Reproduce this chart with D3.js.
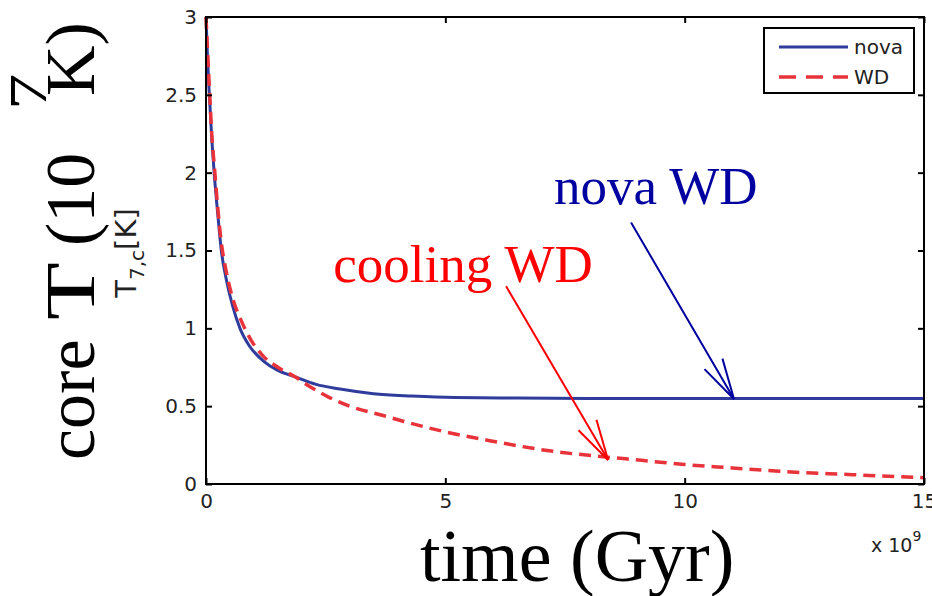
<!DOCTYPE html>
<html>
<head>
<meta charset="utf-8">
<script src="https://cdn.jsdelivr.net/npm/d3@7"></script>
<style>
  html, body { margin: 0; padding: 0; background: #fff; }
  svg { display: block; }
</style>
</head>
<body>
<svg id="chart" width="932" height="596"></svg>
<script>
// time in Gyr, core temperature in 10^7 K
const novaTime = [0, 0.03, 0.07, 0.12, 0.17, 0.25, 0.32, 0.42, 0.55, 0.71, 0.9, 1.2, 1.5, 1.85, 2.3, 2.8, 3.5, 4.3, 5.2, 6.5, 8, 10, 12, 15];
const novaTemp = [3.0, 2.75, 2.5, 2.22, 2.0, 1.72, 1.5, 1.32, 1.15, 1.0, 0.89, 0.79, 0.73, 0.69, 0.64, 0.61, 0.58, 0.565, 0.555, 0.552, 0.55, 0.55, 0.55, 0.55];

const wdTime = [0, 0.03, 0.07, 0.12, 0.18, 0.25, 0.32, 0.42, 0.55, 0.75, 0.95, 1.2, 1.5, 1.85, 2.2, 2.55, 3.0, 3.7, 4.1, 5.0, 5.9, 7.25, 8.3, 9.1, 10, 11, 11.9, 13.5, 15];
const wdTemp = [3.0, 2.8, 2.55, 2.25, 2.02, 1.76, 1.55, 1.37, 1.2, 1.04, 0.92, 0.82, 0.75, 0.69, 0.62, 0.56, 0.5, 0.44, 0.405, 0.335, 0.28, 0.21, 0.175, 0.152, 0.125, 0.103, 0.083, 0.06, 0.04];

const xTicks = [0, 5, 10, 15];
const yTicks = [0, 0.5, 1, 1.5, 2, 2.5, 3];
const legendLabels = ['nova', 'WD'];

const width = 932, height = 596;
const margin = { top: 17, right: 8, bottom: 112, left: 206 };

const svg = d3.select('#chart');
svg.append('rect').attr('width', width).attr('height', height).attr('fill', '#fff');

const x = d3.scaleLinear().domain([0, 15]).range([margin.left, width - margin.right]);
const y = d3.scaleLinear().domain([0, 3]).range([height - margin.bottom, margin.top]);

const sans = '"DejaVu Sans", Verdana, sans-serif';
const serif = '"Liberation Serif", "Times New Roman", serif';
const novaColor = '#2f3c9c';
const wdColor = '#e8333b';

// curves
const line = d3.line()
  .x(d => x(d[0]))
  .y(d => y(d[1]))
  .curve(d3.curveMonotoneX);

const nova = novaTime.map((t, i) => [t, novaTemp[i]]);
const wd = wdTime.map((t, i) => [t, wdTemp[i]]);

svg.append('path')
  .datum(nova)
  .attr('d', line)
  .attr('fill', 'none')
  .attr('stroke', novaColor)
  .attr('stroke-width', 3);

svg.append('path')
  .datum(wd)
  .attr('d', line)
  .attr('fill', 'none')
  .attr('stroke', wdColor)
  .attr('stroke-width', 3.5)
  .attr('stroke-dasharray', '12,7');

// axes: matlab style box with inward ticks on all sides
function styleAxis(g, showLabels) {
  g.select('.domain').remove();
  g.selectAll('.tick line').attr('stroke', '#000').attr('stroke-width', 2);
  g.selectAll('.tick text')
    .attr('font-family', sans)
    .attr('font-size', 20)
    .attr('fill', '#222');
  if (!showLabels) g.selectAll('.tick text').remove();
}

svg.append('g')
  .attr('transform', `translate(0,${y(0)})`)
  .call(d3.axisBottom(x).tickValues(xTicks).tickSize(-6).tickPadding(10).tickFormat(d3.format('d')))
  .call(g => styleAxis(g, true));

svg.append('g')
  .attr('transform', `translate(0,${y(3)})`)
  .call(d3.axisTop(x).tickValues(xTicks).tickSize(-6))
  .call(g => styleAxis(g, false));

svg.append('g')
  .attr('transform', `translate(${x(0)},0)`)
  .call(d3.axisLeft(y).tickValues(yTicks).tickSize(-6).tickPadding(9).tickFormat(d => d))
  .call(g => styleAxis(g, true));

svg.append('g')
  .attr('transform', `translate(${x(15)},0)`)
  .call(d3.axisRight(y).tickValues(yTicks).tickSize(-6))
  .call(g => styleAxis(g, false));

svg.append('rect')
  .attr('x', x(0)).attr('y', y(3))
  .attr('width', x(15) - x(0)).attr('height', y(0) - y(3))
  .attr('fill', 'none').attr('stroke', '#000').attr('stroke-width', 2);

// x 10^9 exponent
const expo = svg.append('text')
  .attr('x', 871).attr('y', 552)
  .attr('font-family', sans).attr('font-size', 19).attr('fill', '#222');
expo.append('tspan').text('x 10');
expo.append('tspan').attr('font-size', 14).attr('dy', -11).text('9');

// legend
const legend = svg.append('g');
legend.append('rect')
  .attr('x', 764).attr('y', 28).attr('width', 150).attr('height', 65)
  .attr('fill', '#fff').attr('stroke', '#000').attr('stroke-width', 2);
const legendStyles = [
  { color: novaColor, dash: null, width: 3 },
  { color: wdColor, dash: '17,10', width: 3.5 }
];
legendLabels.forEach((lab, i) => {
  const ly = 47 + i * 30;
  legend.append('line')
    .attr('x1', 779).attr('x2', 848).attr('y1', ly).attr('y2', ly)
    .attr('stroke', legendStyles[i].color)
    .attr('stroke-width', legendStyles[i].width)
    .attr('stroke-dasharray', legendStyles[i].dash);
  legend.append('text')
    .attr('x', 854).attr('y', ly + 7)
    .attr('font-family', sans).attr('font-size', 20).attr('fill', '#222')
    .text(lab);
});

// small matlab y label
const small = svg.append('text')
  .attr('transform', 'translate(136,253) rotate(-90)')
  .attr('text-anchor', 'middle')
  .attr('font-family', sans).attr('font-size', 29).attr('fill', '#222');
small.append('tspan').text('T');
small.append('tspan').attr('font-size', 20).attr('dy', 8).text('7,c');
small.append('tspan').attr('dy', -8).text('[K]');

// big overlaid y label, pieces placed along the rotated baseline
const ylab = svg.append('g').attr('transform', 'translate(94,460) rotate(-90)')
  .attr('font-family', serif).attr('fill', '#000');
ylab.append('text').attr('x', 0).attr('font-size', 70).text('core');
ylab.append('text').attr('transform', 'translate(140,0) scale(1.35,1)').attr('font-size', 70).text('T');
ylab.append('text').attr('x', 214).attr('font-size', 70).text('(10');
ylab.append('text').attr('transform', 'translate(350,-48) scale(1.4,1)').attr('font-size', 52).text('7');
ylab.append('text').attr('x', 364).attr('font-size', 70).text('K)');

// big x label
svg.append('text')
  .attr('x', 420).attr('y', 581)
  .attr('font-family', serif).attr('font-size', 74).attr('fill', '#000')
  .text('time (Gyr)');

// annotations with arrows, positioned in data units
const notes = [
  { text: 'nova WD', color: '#0000a0', tx: 7.27, ty: 1.8, from: [8.88, 1.68], to: [11.03, 0.546] },
  { text: 'cooling WD', color: '#ff0000', tx: 2.66, ty: 1.3, from: [6.27, 1.27], to: [8.4, 0.154] }
];

notes.forEach(n => {
  svg.append('text')
    .attr('x', x(n.tx)).attr('y', y(n.ty))
    .attr('font-family', serif).attr('font-size', 53).attr('fill', n.color)
    .text(n.text);
  const x1 = x(n.from[0]), y1 = y(n.from[1]);
  const x2 = x(n.to[0]), y2 = y(n.to[1]);
  svg.append('line')
    .attr('x1', x1).attr('y1', y1).attr('x2', x2).attr('y2', y2)
    .attr('stroke', n.color).attr('stroke-width', 2);
  // open arrow head
  const ang = Math.atan2(y2 - y1, x2 - x1);
  const len = 42, spread = 0.25;
  [-spread, spread].forEach(s => {
    svg.append('line')
      .attr('x1', x2).attr('y1', y2)
      .attr('x2', x2 - len * Math.cos(ang + s))
      .attr('y2', y2 - len * Math.sin(ang + s))
      .attr('stroke', n.color).attr('stroke-width', 2);
  });
});
</script>
</body>
</html>
